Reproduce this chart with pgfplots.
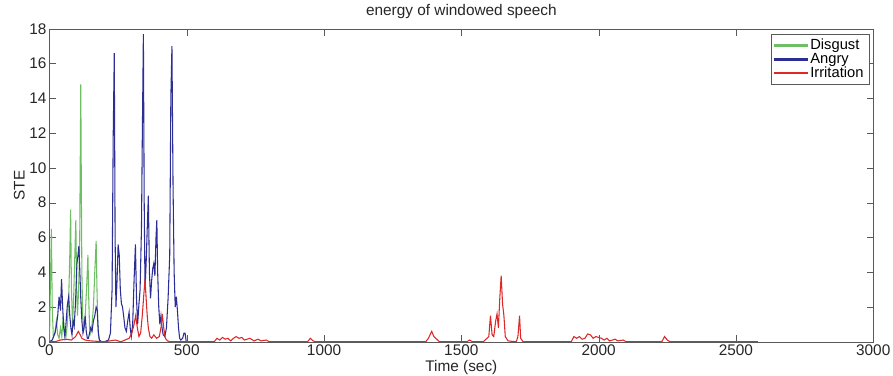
\documentclass[border=0pt]{standalone}
\usepackage{fontspec}
\setmainfont{Liberation Sans}
\usepackage{pgfplots}
\pgfplotsset{compat=1.18}
\definecolor{disgustcol}{RGB}{110,190,100}
\definecolor{angrycol}{RGB}{45,45,150}
\definecolor{irritcol}{RGB}{220,40,40}
\begin{document}
\begin{tikzpicture}
\begin{axis}[
  scale only axis, width=616pt, height=234pt,
  xmin=0, xmax=3000, ymin=0, ymax=18,
  xtick={0,500,...,3000}, ytick={0,2,...,18},
  tick align=inside, tick pos=both,
  major tick length=5pt,
  axis line style={gray!70!black},
  tick style={gray!70!black},
  /pgf/number format/assume math mode=true,
  /pgf/number format/1000 sep={},
  tick label style={font=\fontsize{11.5}{13}\selectfont, text=black!85},
  xticklabel style={inner sep=2pt},
  yticklabel style={inner sep=2pt},
  title={energy of windowed speech},
  title style={font=\fontsize{11.5}{13}\selectfont, text=black!85, yshift=-2pt},
  xlabel={Time (sec)}, ylabel={STE},
  label style={font=\fontsize{11.5}{13}\selectfont, text=black!85},
  xlabel style={inner sep=1pt}, ylabel style={yshift=-2pt},
  legend style={font=\fontsize{11}{12}\selectfont, draw=gray!70!black, row sep=-3pt, inner sep=2pt, at={(0.995,0.985)}, anchor=north east},
  legend cell align=left,
  every axis plot/.append style={line width=0.8pt},
]
\addplot[disgustcol, legend image code/.code={\fill[disgustcol] (0cm,-0.6pt) rectangle (0.85cm,0.6pt);}] coordinates {(0,0) (3,3) (7,6.5) (10,2) (14,0.3) (20,0.5) (25,1.2) (30,0.4) (35,0.2) (40,0.8)(45,0.3)(50,1.5)(55,0.5)(60,0.3)(65,1.0)(70,2.5)(74,5.0)(77,7.6)(80,3)(84,1.0)(88,2.5)(92,4.8)(96,7.0)(99,3)(102,1.5)(106,3)(110,5.5)(112,10.2)(114,14.8)(116,9)(118,4)(121,1.5)(125,0.8)(130,1.5)(135,3)(140,5.0)(143,2.5)(146,0.8)(150,0.5)(155,1.0)(160,2)(165,4)(170,5.8)(173,3)(176,1)(180,0.2)(185,0)};
\addlegendentry{Disgust}
\addplot[angrycol, legend image code/.code={\fill[angrycol] (0cm,-0.6pt) rectangle (0.85cm,0.6pt);}] coordinates {(0,0)(10,0.1)(20,0.5)(25,0.9)(30,1.5)(35,2.6)(40,1.8)(44,3.6)(48,2)(52,0.8)(56,0.3)(60,1)(65,2.1)(70,2.6)(74,1.5)(78,0.8)(82,0.4)(86,1.2)(90,0.9)(95,2.3)(100,4.5)(104,5.0)(107,5.5)(110,4.3)(114,2.5)(118,1.2)(122,0.5)(126,0.8)(130,1.5)(134,0.6)(138,0.2)(142,0.2)(146,0.5)(150,0.8)(155,0.6)(160,1.2)(165,1.5)(170,2.0)(174,1.8)(178,0.5)(182,0.1)(190,0)(200,0)(215,0.1)(222,0.5)(228,3.0)(232,11.7)(236,16.6)(239,6)(242,2)(246,3.5)(250,5.6)(254,5.0)(258,3)(262,2.2)(266,2.0)(270,1.5)(275,0.8)(280,0.6)(285,1.2)(290,1.7)(294,0.8)(298,0.3)(303,1.0)(308,3.5)(313,5.6)(317,2.5)(321,1.0)(326,2.2)(330,3.0)(335,6.5)(338,11.6)(342,17.7)(345,8)(348,3)(352,4.5)(356,6.5)(360,8.4)(364,4)(368,2.5)(372,3.5)(376,4.2)(380,4.5)(384,3.8)(388,6.0)(391,7.0)(394,4)(398,2.0)(402,1.0)(406,1.5)(410,0.8)(414,0.4)(420,0.3)(426,0.8)(432,2.5)(438,5.0)(442,14.0)(446,17.0)(450,9)(454,4)(458,2.0)(462,2.6)(466,1.8)(470,0.8)(474,0.2)(478,0.1)(485,0.2)(490,0.5)(494,0.5)(498,0)(510,0)};
\addlegendentry{Angry}
\addplot[irritcol, legend image code/.code={\fill[irritcol] (0cm,-0.6pt) rectangle (0.85cm,0.6pt);}] coordinates {(0,0)(20,0)(40,0.1)(60,0.15)(80,0.1)(95,0.3)(105,0.6)(112,0.4)(118,0.2)(130,0.1)(150,0.05)(200,0)(240,0.1)(260,0)(290,0.2)(300,0.5)(308,1.0)(314,1.5)(320,0.8)(326,0.3)(332,0.5)(338,1.5)(344,2.8)(348,3.6)(352,2.5)(356,1.5)(360,0.8)(366,0.3)(372,0.2)(380,0.4)(390,0.2)(400,0.3)(406,0.8)(411,1.6)(416,0.8)(422,0.2)(430,0.05)(440,0)(600,0)(610,0.2)(620,0.1)(630,0.25)(640,0.15)(650,0.2)(660,0.05)(670,0.2)(680,0.3)(690,0.2)(700,0.25)(710,0.1)(720,0.15)(730,0.2)(745,0.05)(760,0.15)(770,0.05)(790,0.1)(800,0)(940,0)(950,0.2)(960,0.05)(970,0)(1370,0)(1380,0.2)(1392,0.6)(1400,0.3)(1410,0.15)(1420,0)(1520,0)(1530,0.1)(1540,0)(1580,0)(1590,0.15)(1600,0.3)(1606,1.5)(1612,0.4)(1618,0.3)(1625,1.2)(1630,1.6)(1635,0.8)(1640,2.5)(1645,3.8)(1650,2.2)(1655,1.5)(1660,0.3)(1670,0.05)(1700,0)(1706,0.3)(1712,1.5)(1716,0.2)(1725,0)(1900,0)(1910,0.3)(1920,0.2)(1930,0.3)(1940,0.15)(1950,0.2)(1960,0.45)(1970,0.4)(1980,0.2)(1990,0.3)(2000,0.25)(2010,0.2)(2020,0.1)(2030,0.2)(2040,0.05)(2060,0.15)(2070,0.05)(2090,0.1)(2100,0)(2230,0)(2240,0.3)(2250,0.1)(2260,0)(2580,0)};
\addlegendentry{Irritation}
\end{axis}
\path (current bounding box.west) ++(-7pt,0) coordinate (padleft);
\path (padleft);
\end{tikzpicture}
\end{document}
